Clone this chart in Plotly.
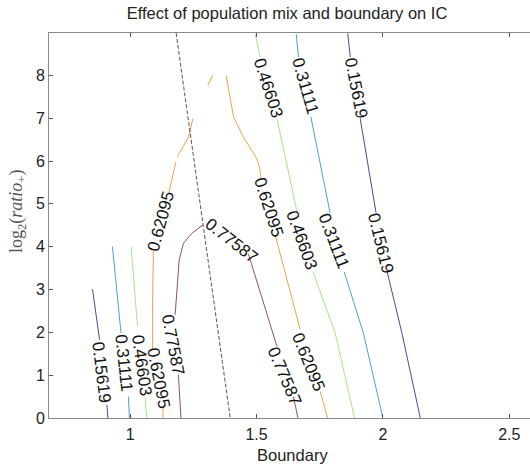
import plotly.graph_objects as go

# ---- data (Boundary vs log2(ratio+)) ----
levels = ["0.15619", "0.31111", "0.46603", "0.62095", "0.77587"]

# contour paths (None = gap where a label sits / separate piece)
c1_x = [1.861, 1.871, None, 1.910, 1.973, None, 2.017, 2.075, 2.148, None,
        0.851, 0.879, None, 0.908, 0.912]
c1_y = [8.98, 8.43, None, 7.00, 4.79, None, 3.41, 1.99, 0.0, None,
        3.01, 1.83, None, 0.31, 0.0]

c2_x = [1.657, 1.666, None, 1.715, 1.791, None, 1.847, 1.923, 2.000, None,
        0.930, 0.964, None, 0.993, 0.997]
c2_y = [8.97, 8.43, None, 7.03, 4.79, None, 3.41, 1.98, 0.0, None,
        4.00, 1.98, None, 0.50, 0.0]

c3_x = [1.495, 1.514, None, 1.581, 1.660, None, 1.723, 1.811, 1.888, None,
        1.004, 1.029, None, 1.059, 1.066]
c3_y = [8.98, 8.42, None, 6.99, 4.82, None, 3.42, 1.99, 0.0, None,
        4.00, 2.14, None, 0.47, 0.0]

c4_x = [1.307, 1.327, None, 1.248, 1.231, 1.187, None, 1.181, 1.152, None,
        1.092, 1.089, 1.089, None, 1.131, 1.129, None,
        1.380, 1.409, 1.448, 1.501, 1.514, 1.517, None, 1.574, 1.673, None,
        1.752, 1.781]
c4_y = [7.77, 8.00, None, 6.99, 6.56, 6.10, None, 5.98, 5.24, None,
        3.92, 2.76, 1.59, None, 0.26, 0.0, None,
        8.00, 7.03, 6.56, 6.06, 5.79, 5.59, None, 4.27, 2.06, None,
        0.62, 0.0]

c5_x = [1.201, 1.191, None, 1.178, 1.185, 1.194, 1.211, 1.244, 1.288, None,
        1.468, 1.581, None, 1.646, 1.664]
c5_y = [0.0, 1.01, None, 2.41, 2.99, 3.69, 4.08, 4.31, 4.51, None,
        3.83, 1.67, None, 0.50, 0.0]

contour_x = [c1_x, c2_x, c3_x, c4_x, c5_x]
contour_y = [c1_y, c2_y, c3_y, c4_y, c5_y]

# contour label positions (level index, x, y, angle)
label_level = [0, 0, 0, 1, 1, 1, 2, 2, 2, 3, 3, 3, 3, 4, 4, 4]
label_x = [1.894, 1.989, 0.885, 1.693, 1.807, 0.974, 1.546, 1.677, 1.044,
           1.123, 1.111, 1.546, 1.704, 1.168, 1.400, 1.609]
label_y = [7.72, 4.09, 1.08, 7.74, 4.13, 1.29, 7.72, 4.16, 1.24,
           4.58, 0.94, 4.93, 1.32, 1.71, 4.15, 0.99]
label_angle = [79, 76, 83, 74, 69, 84, 72, 70, 82,
               -75, 79, 72, 68, 79, 38, 67]

# dashed boundary line
dash_x = [1.182, 1.396]
dash_y = [8.99, 0.0]

x_ticks = [1, 1.5, 2, 2.5]
x_ticktext = ["1", "1.5", "2", "2.5"]
y_ticks = [0, 1, 2, 3, 4, 5, 6, 7, 8]

colors = ["#4b4a8c", "#4a9fd8", "#a9e38c", "#e8a44c", "#8c5562"]

fig = go.Figure()
for i, lv in enumerate(levels):
    fig.add_trace(go.Scatter(x=contour_x[i], y=contour_y[i], mode="lines",
                             line=dict(color=colors[i], width=1),
                             connectgaps=False, hoverinfo="skip",
                             showlegend=False, name=lv))
fig.add_trace(go.Scatter(x=dash_x, y=dash_y, mode="lines",
                         line=dict(color="#555555", width=1, dash="4px,2px"),
                         hoverinfo="skip", showlegend=False))

for li, lx, ly, la in zip(label_level, label_x, label_y, label_angle):
    fig.add_annotation(x=lx, y=ly, xref="x", yref="y", text=levels[li],
                       showarrow=False, textangle=la,
                       font=dict(family="Liberation Sans", size=17, color="#111"))

# axis title annotations
fig.add_annotation(x=(292 - 49) / 481, y=(418 - 455) / 385, xref="paper", yref="paper",
                   text="Boundary", showarrow=False, yanchor="middle",
                   font=dict(family="Liberation Sans", size=16.5, color="#222"))
fig.add_annotation(x=(17 - 49) / 481, y=(418 - 212) / 385, xref="paper", yref="paper",
                   text="log<sub>2</sub>(<i>ratio</i><sub>+</sub>)", showarrow=False,
                   textangle=-90, xanchor="center", yanchor="middle",
                   font=dict(family="Liberation Serif", size=18, color="#555"))

fig.update_layout(
    width=530, height=465,
    margin=dict(l=49, r=0, t=33, b=47),
    paper_bgcolor="white", plot_bgcolor="white",
    title=dict(text="Effect of population mix and boundary on IC",
               x=(287 - 49) / 481, xref="paper", xanchor="center",
               y=1 - 13 / 465, yref="container", yanchor="middle",
               font=dict(family="Liberation Sans", size=16.5, color="#222")),
    xaxis=dict(range=[0.679, 2.582], tickvals=x_ticks, ticktext=x_ticktext,
               showgrid=False, zeroline=False, showline=True, linecolor="#8a8a8a",
               linewidth=1, mirror="ticks", ticks="inside", ticklen=4,
               tickcolor="#555", ticklabelstandoff=2,
               tickfont=dict(family="Liberation Sans", size=16, color="#222")),
    yaxis=dict(range=[0, 8.99], tickvals=y_ticks,
               showgrid=False, zeroline=False, showline=True, linecolor="#8a8a8a",
               linewidth=1, ticks="inside", ticklen=4,
               tickcolor="#555",
               tickfont=dict(family="Liberation Sans", size=16, color="#222")),
)

fig.write_html("out.html")
